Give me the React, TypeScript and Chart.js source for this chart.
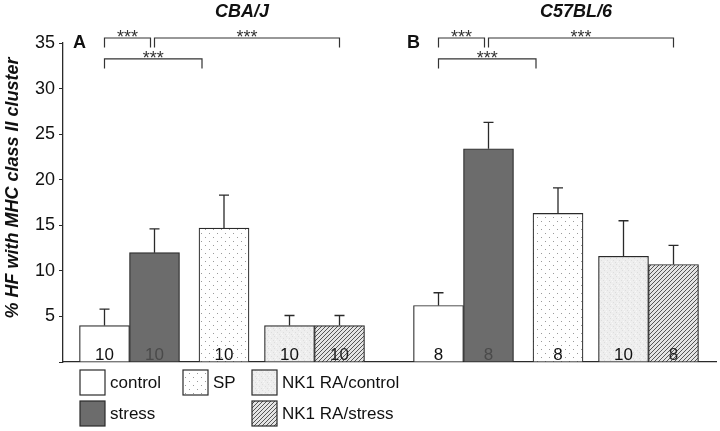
import React, { useEffect, useRef } from "react";
import { Chart, registerables } from "chart.js";

Chart.register(...registerables);

// ---------- data ----------
const strains = ["CBA/J", "C57BL/6"];
const panelLetters = ["A", "B"];
const conditions = ["control", "stress", "SP", "NK1 RA/control", "NK1 RA/stress"];
const meanCBA = [4.0, 12.0, 14.7, 4.0, 4.0];
const semCBA = [1.8, 2.6, 3.6, 1.1, 1.1];
const nCBA = [10, 10, 10, 10, 10];
const meanC57 = [6.2, 23.4, 16.3, 11.6, 10.7];
const semC57 = [1.4, 2.9, 2.8, 3.9, 2.1];
const nC57 = [8, 8, 8, 10, 8];
const yTickValues = [5, 10, 15, 20, 25, 30, 35];
const yTitle = "% HF with MHC class II cluster";
const sigLabel = "***";
// significance comparisons within each strain (condition indices)
const sigPairs = [
  [0, 1],
  [1, 4],
  [0, 2],
];

// ---------- layout (axis units, not data) ----------
const GROUP_START = [0.83, 7.51];
const SLOT = [0, 1, 2.39, 3.7, 4.7];
const X_MAX = 13.06;
const BRACKET_LEVEL = [35.55, 33.25];
const BRACKET_DROP = 1.05;
const BRACKET_ROW = [0, 0, 1];
const BRACKET_SHIFT = [
  [0, -0.08],
  [0, 0],
  [0, -0.44],
];

const FONT = "'Liberation Sans', Arial, Helvetica, sans-serif";
const INK = "#2a2a2a";

function makePattern(kind: string): CanvasPattern | string {
  const c = document.createElement("canvas");
  const ctx = c.getContext("2d")!;
  if (kind === "control") return "#ffffff";
  if (kind === "stress") return "#6c6c6c";
  if (kind === "SP") {
    c.width = 8;
    c.height = 8;
    ctx.fillStyle = "#ffffff";
    ctx.fillRect(0, 0, 8, 8);
    ctx.fillStyle = "#9a9a9a";
    ctx.fillRect(1, 1, 1, 1);
    ctx.fillRect(5, 5, 1, 1);
    return ctx.createPattern(c, "repeat")!;
  }
  if (kind === "nk1c") {
    c.width = 6;
    c.height = 6;
    ctx.fillStyle = "#eeeeee";
    ctx.fillRect(0, 0, 6, 6);
    ctx.fillStyle = "#dddddd";
    ctx.fillRect(1, 2, 1, 1);
    ctx.fillRect(4, 0, 1, 1);
    ctx.fillRect(3, 4, 1, 1);
    ctx.fillStyle = "#f8f8f8";
    ctx.fillRect(0, 5, 1, 1);
    ctx.fillRect(5, 3, 1, 1);
    return ctx.createPattern(c, "repeat")!;
  }
  // hatch
  c.width = 4;
  c.height = 4;
  ctx.fillStyle = "#e4e4e4";
  ctx.fillRect(0, 0, 4, 4);
  ctx.strokeStyle = "#555555";
  ctx.lineWidth = 1;
  for (let i = -1; i <= 1; i++) {
    ctx.beginPath();
    ctx.moveTo(i * 4, 4);
    ctx.lineTo(i * 4 + 4, 0);
    ctx.stroke();
  }
  return ctx.createPattern(c, "repeat")!;
}

const fillKinds = ["control", "stress", "SP", "nk1c", "nk1s"];
const labelColors = ["#111", "#4a4a4a", "#111", "#111", "#222"];

export default function App() {
  const ref = useRef<HTMLCanvasElement | null>(null);

  useEffect(() => {
    const canvas = ref.current;
    if (!canvas) return;
    const fills = fillKinds.map((k) => makePattern(k));
    const means = [meanCBA, meanC57];
    const sems = [semCBA, semC57];
    const ns = [nCBA, nC57];

    const datasets = conditions.map((cond, ci) => ({
      label: cond,
      data: strains.map((_, gi) => ({ x: GROUP_START[gi] + SLOT[ci], y: means[gi][ci] })),
      backgroundColor: fills[ci] as any,
      borderColor: INK,
      borderWidth: 1.2,
      barPercentage: 1,
      categoryPercentage: 1,
      grouped: false,
    }));

    const overlay = {
      id: "overlay",
      afterDatasetsDraw(chart: any) {
        const ctx = chart.ctx as CanvasRenderingContext2D;
        const xs = chart.scales.x;
        const ys = chart.scales.y;
        const area = chart.chartArea;
        ctx.save();

        // error bars + n labels
        conditions.forEach((_, ci) => {
          const meta = chart.getDatasetMeta(ci);
          meta.data.forEach((bar: any, gi: number) => {
            const top = ys.getPixelForValue(means[gi][ci] + sems[gi][ci]);
            ctx.strokeStyle = INK;
            ctx.lineWidth = 1.3;
            ctx.beginPath();
            ctx.moveTo(bar.x, bar.y);
            ctx.lineTo(bar.x, top);
            ctx.moveTo(bar.x - 5, top);
            ctx.lineTo(bar.x + 5, top);
            ctx.stroke();

            ctx.fillStyle = labelColors[ci];
            ctx.font = `17px ${FONT}`;
            ctx.textAlign = "center";
            ctx.textBaseline = "alphabetic";
            ctx.fillText(String(ns[gi][ci]), bar.x, bar.base - 2);
          });
        });

        // significance brackets
        strains.forEach((strain, gi) => {
          sigPairs.forEach((pair, bi) => {
            const x1 = xs.getPixelForValue(GROUP_START[gi] + SLOT[pair[0]] + BRACKET_SHIFT[bi][0]);
            const x2 = xs.getPixelForValue(GROUP_START[gi] + SLOT[pair[1]] + BRACKET_SHIFT[bi][1]);
            const lvl = BRACKET_LEVEL[BRACKET_ROW[bi]];
            const yl = ys.getPixelForValue(lvl);
            const yd = ys.getPixelForValue(lvl - BRACKET_DROP);
            ctx.strokeStyle = "#333";
            ctx.lineWidth = 1.2;
            ctx.beginPath();
            ctx.moveTo(x1, yd);
            ctx.lineTo(x1, yl);
            ctx.lineTo(x2, yl);
            ctx.lineTo(x2, yd);
            ctx.stroke();
            ctx.fillStyle = "#333";
            ctx.font = `18px ${FONT}`;
            ctx.textAlign = "center";
            ctx.textBaseline = "alphabetic";
            ctx.fillText(sigLabel, (x1 + x2) / 2, yl + 5);
          });

          // strain titles
          const gx1 = xs.getPixelForValue(GROUP_START[gi] + SLOT[0]);
          const gx2 = xs.getPixelForValue(GROUP_START[gi] + SLOT[4]);
          ctx.fillStyle = "#111";
          ctx.font = `italic bold 18px ${FONT}`;
          ctx.textAlign = "center";
          ctx.textBaseline = "middle";
          ctx.fillText(strain, (gx1 + gx2) / 2 + 20, 12);

          // panel letters
          ctx.font = `bold 18px ${FONT}`;
          ctx.textAlign = "center";
          ctx.fillText(panelLetters[gi], gx1 - 25, ys.getPixelForValue(35) + 0.5);
        });

        // y axis title
        ctx.save();
        ctx.translate(13, 188);
        ctx.rotate(-Math.PI / 2);
        ctx.fillStyle = "#111";
        ctx.font = `italic bold 18px ${FONT}`;
        ctx.textAlign = "center";
        ctx.textBaseline = "middle";
        ctx.fillText(yTitle, 0, 0);
        ctx.restore();

        // legend
        const cols = [[0, 1], [2], [3, 4]];
        const colX = [area.left + 17, area.left + 120, area.left + 189];
        const rowY = [area.bottom + 8, area.bottom + 39];
        cols.forEach((items, c) => {
          items.forEach((ci, r) => {
            const bx = colX[c];
            const by = rowY[r];
            ctx.fillStyle = fills[ci] as any;
            ctx.fillRect(bx, by, 25, 25);
            ctx.strokeStyle = INK;
            ctx.lineWidth = 1.2;
            ctx.strokeRect(bx, by, 25, 25);
            ctx.fillStyle = "#111";
            ctx.font = `17px ${FONT}`;
            ctx.textAlign = "left";
            ctx.textBaseline = "middle";
            ctx.fillText(conditions[ci], bx + 30, by + 13);
          });
        });

        ctx.restore();
      },
    };

    const chart = new Chart(canvas, {
      type: "bar",
      data: { datasets: datasets as any },
      options: {
        animation: false,
        responsive: false,
        layout: { padding: { top: 43, right: 4, left: 0, bottom: 0 } },
        plugins: { legend: { display: false }, tooltip: { enabled: false } },
        scales: {
          x: {
            type: "linear",
            offset: false,
            min: 0,
            max: X_MAX,
            ticks: { display: false },
            grid: { display: false, offset: false },
            border: { display: true, color: INK, width: 1.3 },
            afterFit: (s: any) => {
              s.height = 69;
            },
          },
          y: {
            type: "linear",
            min: 0,
            max: 35,
            afterBuildTicks: (s: any) => {
              s.ticks = [0, ...yTickValues].map((v) => ({ value: v }));
            },
            ticks: {
              color: "#111",
              font: { family: FONT, size: 18 },
              padding: 4,
              callback: (v: any) => (yTickValues.includes(Number(v)) ? String(v) : ""),
            },
            grid: { drawOnChartArea: false, drawTicks: true, tickLength: 4, color: INK },
            border: { display: true, color: INK, width: 1.3 },
            afterFit: (s: any) => {
              s.width = 63;
            },
          },
        },
      },
      plugins: [overlay],
    });

    return () => chart.destroy();
  }, []);

  return (
    <div style={{ position: "fixed", left: 0, top: 0, width: 720, height: 431, background: "#fff" }}>
      <canvas ref={ref} width={720} height={431} style={{ display: "block" }} />
    </div>
  );
}
